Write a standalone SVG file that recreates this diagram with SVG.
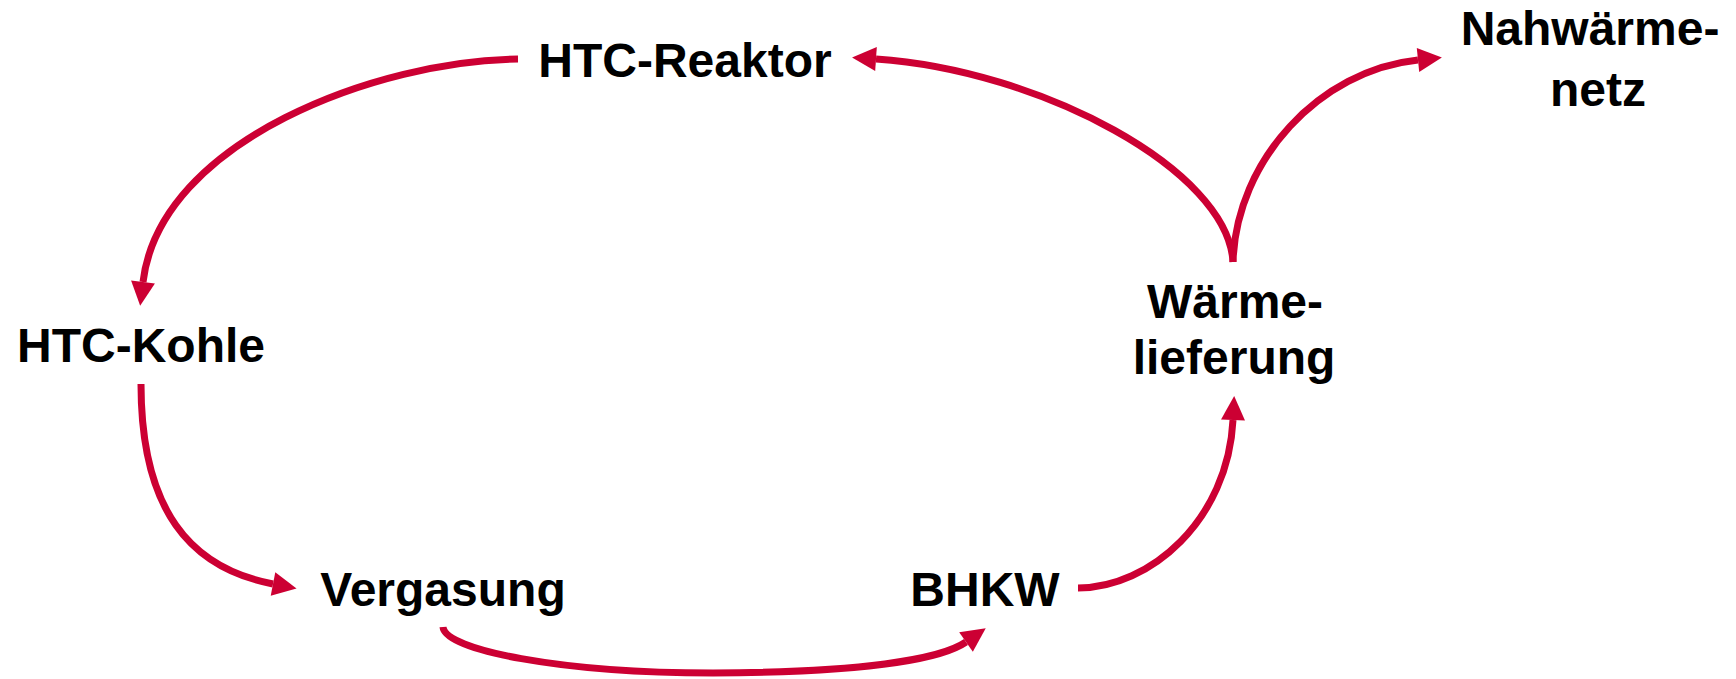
<svg xmlns="http://www.w3.org/2000/svg" width="1736" height="679" viewBox="0 0 1736 679">
<style>
.lbl{font-family:"Liberation Sans",Arial,sans-serif;font-weight:bold;font-size:48px;fill:#000;text-anchor:middle}
.con{fill:none;stroke:#cc0033;stroke-width:7;stroke-linecap:butt}
</style>
<defs>
<marker id="ah" markerUnits="userSpaceOnUse" markerWidth="26" markerHeight="26" refX="0" refY="12" orient="auto" overflow="visible">
<path d="M0,0 L24,12 L0,24 z" fill="#cc0033"/>
</marker>
</defs>
<rect width="1736" height="679" fill="#fff"/>
<g id="connectors">
<path class="con" d="M518,59 C380,60 160,140 143,282" marker-end="url(#ah)"/>
<path class="con" d="M141,384 C141,510 190,568 273,584" marker-end="url(#ah)"/>
<path class="con" d="M443,627 C445,650 560,673 713,673 C860,672 940,660 966,642" marker-end="url(#ah)"/>
<path class="con" d="M1078,588 C1150,588 1228,520 1233,420" marker-end="url(#ah)"/>
<path class="con" d="M1233,262 C1228,170 1040,70 876,59" marker-end="url(#ah)"/>
<path class="con" d="M1233,262 C1236,160 1320,70 1418,60" marker-end="url(#ah)"/>
</g>
<g id="htc-reaktor"><text class="lbl" x="685" y="77">HTC-Reaktor</text></g>
<g id="htc-kohle"><text class="lbl" x="141" y="362">HTC-Kohle</text></g>
<g id="vergasung"><text class="lbl" x="443" y="606">Vergasung</text></g>
<g id="bhkw"><text class="lbl" x="985" y="606">BHKW</text></g>
<g id="waermelieferung"><text class="lbl" x="1235" y="318">Wärme-</text><text class="lbl" x="1234" y="374">lieferung</text></g>
<g id="nahwaermenetz"><text class="lbl" x="1590" y="45">Nahwärme-</text><text class="lbl" x="1598" y="106">netz</text></g>
</svg>
